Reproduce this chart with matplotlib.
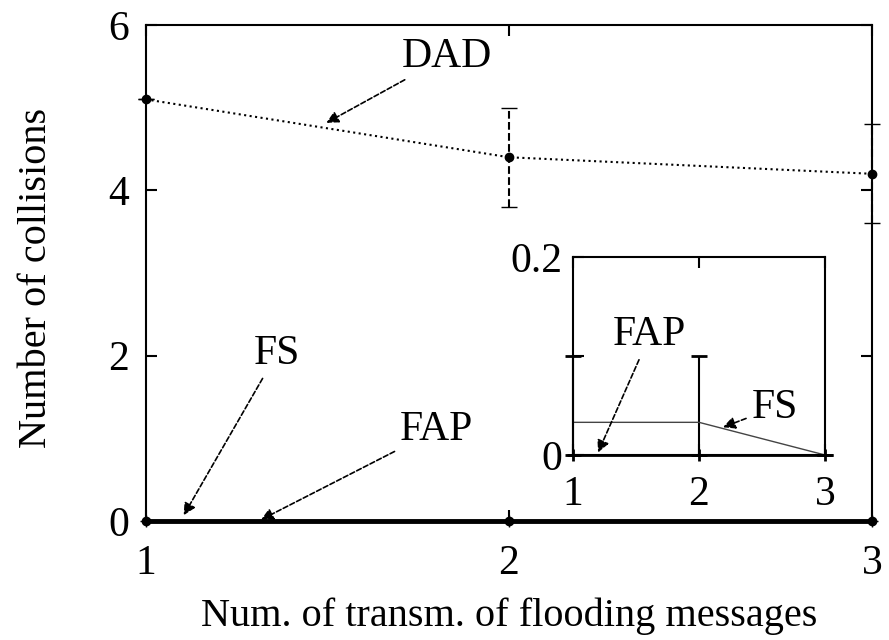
import numpy as np
import matplotlib.pyplot as plt

plt.rcParams['font.family'] = ['Liberation Serif', 'DejaVu Serif']
plt.rcParams['font.size'] = 30

x = [1, 2, 3]
dad = [5.1, 4.4, 4.2]
dad_err = [0.0, 0.6, 0.6]
fs = [0.0, 0.0, 0.0]
fap = [0.0, 0.0, 0.0]

# inset (zoom near zero)
fs_zoom = [0.033, 0.033, 0.0]
fap_zoom = [0.0, 0.0, 0.0]
fap_zoom_err = [0.1, 0.1, 0.0]

fig = plt.figure(figsize=(8.89, 6.4), dpi=100)
ax = fig.add_axes([146 / 889, 119 / 640, 726 / 889, 496 / 640])

eb = ax.errorbar(x, dad, yerr=dad_err, color='black', ls=':', lw=1.5, marker='o',
                 ms=6, capsize=6, elinewidth=1.5, clip_on=False)
for part in eb[2]:
    part.set_linestyle('--')
    part.set_clip_on(False)
for cap in eb[1]:
    cap.set_clip_on(False)
ax.plot(x, fs, color='black', lw=3.5, marker='o', ms=6, clip_on=False)
ax.plot(x, fap, color='black', lw=2, marker='+', ms=8, clip_on=False)

ax.set_xlim(1, 3)
ax.set_ylim(0, 6)
ax.set_xticks([1, 2, 3])
ax.set_yticks([0, 2, 4, 6])
ax.tick_params(direction='in', length=8, width=1.5, top=True, right=True)
ax.tick_params(axis='x', pad=17)
ax.tick_params(axis='y', pad=12)
for s in ax.spines.values():
    s.set_linewidth(1.5)
ax.set_xlabel('Num. of transm. of flooding messages', fontsize=29)
ax.xaxis.set_label_coords(0.5, -0.155)
ax.set_ylabel('Number of collisions', fontsize=29)
ax.yaxis.set_label_coords(-0.125, 0.49)

arrow = dict(arrowstyle='-|>', color='black', lw=1.2, ls=(0, (3, 1.5)), mutation_scale=18)
ax.annotate('DAD', xy=(1.49, 4.8), xytext=(1.83, 5.62), ha='center', va='center', arrowprops=arrow)
ax.annotate('FS', xy=(1.10, 0.04), xytext=(1.36, 2.02), ha='center', va='center', arrowprops=arrow)
ax.annotate('FAP', xy=(1.31, 0.0), xytext=(1.80, 1.1), ha='center', va='center', arrowprops=arrow)

ins = fig.add_axes([573 / 889, 185 / 640, 252 / 889, 198 / 640])
ins.errorbar(x, fap_zoom, yerr=[[0, 0, 0], fap_zoom_err], color='black', lw=2,
             marker='+', ms=8, mew=2, capsize=6, elinewidth=1.5, clip_on=False)
ins.plot(x, fs_zoom, color='#444444', lw=1)
ins.set_xlim(1, 3)
ins.set_ylim(0, 0.2)
ins.set_xticks([1, 2, 3])
ins.set_yticks([0, 0.1, 0.2])
ins.set_yticklabels(['0', '', '0.2'])
ins.tick_params(direction='in', length=8, width=1.5, top=True)
ins.tick_params(axis='x', pad=15)
ins.tick_params(axis='y', pad=8)
for s in ins.spines.values():
    s.set_linewidth(1.5)
ins.annotate('FAP', xy=(1.19, 0.0), xytext=(1.61, 0.121), ha='center', va='center', arrowprops=arrow)
ins.annotate('FS', xy=(2.17, 0.027), xytext=(2.6, 0.048), ha='center', va='center', arrowprops=arrow)

fig.savefig('out.png', dpi=100)
